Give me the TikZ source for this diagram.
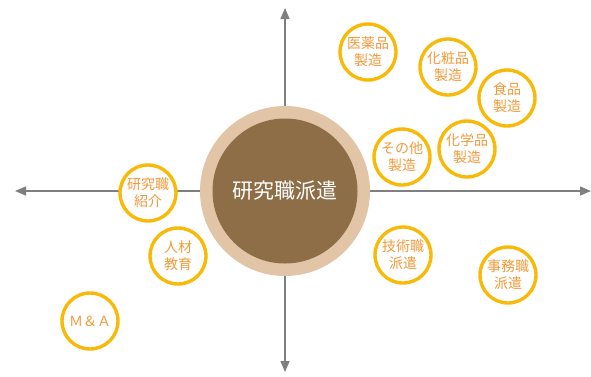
\documentclass[tikz,border=0pt]{standalone}
\usepackage{fontspec}
\newfontfamily\cjk{Noto Sans CJK JP}
\usetikzlibrary{arrows.meta}
\definecolor{axisgray}{HTML}{7F7F7F}
\definecolor{ringbeige}{HTML}{E2C4A6}
\definecolor{corebrown}{HTML}{8E6E46}
\definecolor{ringyellow}{HTML}{F9B908}
\definecolor{txtorange}{HTML}{F39A3A}
\tikzset{
  axisline/.style={draw=axisgray, line width=1.5pt, -{Triangle[length=11pt,width=9pt]}},
  bubble/.style={circle, draw=ringyellow, fill=white, line width=3.4pt, minimum size=56pt, inner sep=0pt,
    text=txtorange, font=\cjk\fontsize{14}{17}\selectfont, align=center},
}
\begin{document}
\begin{tikzpicture}[x=1pt,y=-1pt]
\useasboundingbox (0,0) rectangle (591,376);
\coordinate (c) at (285,191);
\coordinate (L) at (15,191);
\coordinate (R) at (591,191);
\coordinate (T) at (285,8);
\coordinate (B) at (285,372);
\draw[axisline] (c) -- (L);
\draw[axisline] (c) -- (R);
\draw[axisline] (c) -- (T);
\draw[axisline] (c) -- (B);
\node[circle, fill=ringbeige, minimum size=170pt, inner sep=0pt] (ring) at (c) {};
\node[circle, fill=corebrown, minimum size=145pt, inner sep=0pt, text=white, font=\cjk\fontsize{21}{25}\selectfont] (core) at (c) {研究職派遣};
\node[bubble] (b1) at (368,52) {医薬品\\製造};
\node[bubble] (b2) at (448,67) {化粧品\\製造};
\node[bubble] (b3) at (507,98) {食品\\製造};
\node[bubble] (b4) at (402,157) {その他\\製造};
\node[bubble] (b5) at (467,149) {化学品\\製造};
\node[bubble] (b6) at (148,193) {研究職\\紹介};
\node[bubble] (b7) at (178,256) {人材\\教育};
\node[bubble] (b8) at (90,321) {Ｍ＆Ａ};
\node[bubble] (b9) at (403,255) {技術職\\派遣};
\node[bubble] (b10) at (508,275) {事務職\\派遣};
\end{tikzpicture}
\end{document}
